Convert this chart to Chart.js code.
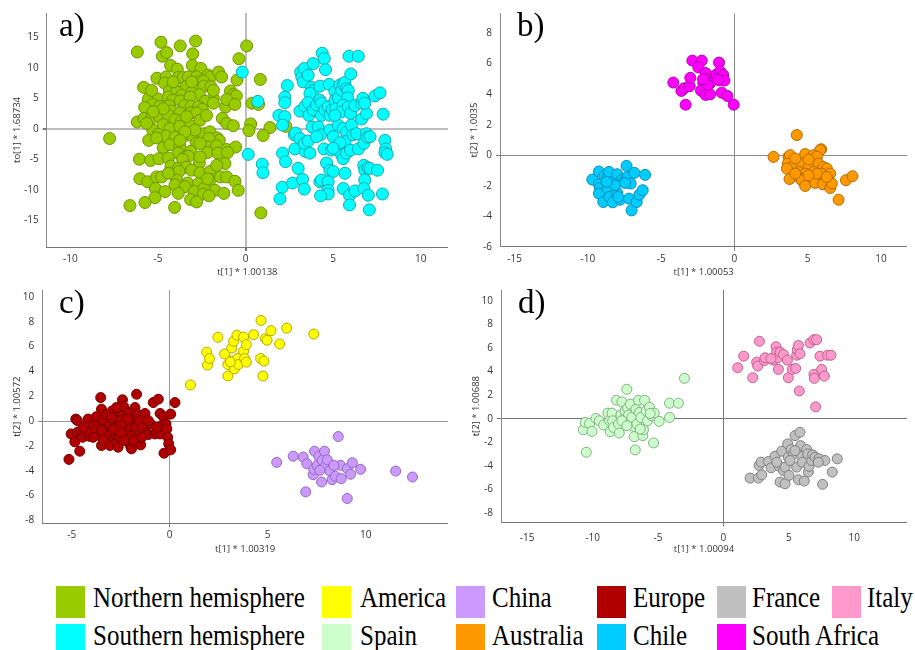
<!DOCTYPE html>
<html>
<head>
<meta charset="utf-8">
<script src="https://cdn.jsdelivr.net/npm/chart.js@4.4.1/dist/chart.umd.min.js"></script>
<style>
  html, body { margin: 0; padding: 0; background: #fff; }
  #page { position: relative; width: 915px; height: 650px; overflow: hidden; }
  canvas { position: absolute; }
  .tag { position: absolute; font-family: 'Liberation Serif', 'Times New Roman', serif; font-size: 33px; line-height: 33px; color: #000; }
  .sq { position: absolute; width: 29px; height: 32px; }
  .lab { position: absolute; font-family: 'Liberation Serif', 'Times New Roman', serif; font-size: 25px; line-height: 25px; color: #000; white-space: nowrap; transform: scaleY(1.15); transform-origin: 0 21px; }
</style>
</head>
<body>
<div id="page">
  <canvas id="pa" width="455" height="280" style="left:0;top:0"></canvas>
  <canvas id="pb" width="460" height="280" style="left:455px;top:0"></canvas>
  <canvas id="pc" width="455" height="280" style="left:0;top:280px"></canvas>
  <canvas id="pd" width="460" height="280" style="left:455px;top:280px"></canvas>
  <div class="tag" style="left:59px;top:9px">a)</div>
  <div class="tag" style="left:517px;top:9px">b)</div>
  <div class="tag" style="left:59px;top:286px">c)</div>
  <div class="tag" style="left:518px;top:286px">d)</div>
  <div id="legend"></div>
</div>
<script>
// panel a) - hemispheres
const northern = [
  [-6.18,12.6],[-4.75,11.9],[-4.5,12.5],[-4.83,14.2],[-3.73,13.6],[-2.85,14.4],[-3.02,12.3],[0.06,13.6],[-0.38,11.5],
  [-4.28,10.4],[-3.9,9.8],[-3.04,10.4],[-2.55,9.9],[-5.06,8.3],[-4.54,8.5],[-3.84,8.4],[-3.56,8.4],[-3.27,8.5],[-2.8,8.5],
  [-2.13,8.8],[-2.0,8.5],[-1.54,9.3],[-1.37,8.5],[-2.74,7.7],[-2.41,7.8],[-4.62,7.5],[-4.13,6.9],[-3.37,7.0],[-2.89,6.9],
  [-2.38,7.0],[-1.98,6.9],[-5.82,6.8],[-0.49,8.0],[0.84,8.1],[-4.35,6.2],[-3.94,6.1],[-3.65,5.5],[-3.1,5.9],[-2.64,5.6],
  [-0.86,6.2],[-0.7,5.6],[-0.53,5.4],[-1.84,5.0],[-2.3,4.5],[-1.84,4.2],[-5.42,5.2],[-5.55,4.9],[-4.98,4.9],[-4.41,5.2],
  [-4.16,4.7],[-3.73,4.6],[-3.17,5.2],[-5.3,4.0],[-4.89,3.7],[-4.37,3.8],[-5.76,3.5],[-3.48,3.8],[-3.1,3.7],[-2.68,3.6],
  [-2.47,3.2],[-1.14,3.6],[-1.08,4.8],[-0.61,4.0],[0.36,4.2],[0.74,4.0],[-4.22,2.9],[-3.75,2.6],[-3.14,2.6],[-2.8,2.6],
  [-6.18,1.1],[-5.8,1.7],[-5.36,1.7],[-4.92,2.0],[-4.41,2.2],[-4.03,1.5],[-3.65,1.3],[-4.7,0.7],[-4.32,0.05],[-3.75,0.4],
  [-3.14,0.5],[-1.33,1.7],[-1.08,0.9],[-0.7,0.5],[0.29,0.8],[1.39,0.2],[2.3,0.4],[-5.3,-0.2],[-4.98,-0.9],[-4.54,-1.2],
  [-4.03,-1.4],[-3.5,-1.2],[-3.02,-1.2],[-2.38,-0.8],[-2.03,-0.5],[-1.62,-1.5],[-1.5,-1.9],[0.19,-0.3],[1.0,-1.1],[-7.76,-1.6],
  [-5.53,-1.9],[-5.08,-1.5],[-3.8,-2.4],[-2.8,-2.3],[-2.09,-1.6],[-4.7,-3.1],[-4.32,-2.6],[-3.75,-3.0],[-3.14,-3.7],[-2.13,-3.0],
  [-1.65,-2.8],[-1.08,-3.4],[-0.57,-3.0],[-2.17,-3.9],[-3.84,-4.0],[-3.46,-4.6],[-3.27,-4.5],[-1.58,-4.0],[-1.03,-3.9],[-6.06,-5.0],
  [-5.42,-5.2],[-4.94,-4.9],[-4.41,-4.8],[-3.59,-5.0],[-2.64,-5.6],[-4.26,-6.1],[-3.84,-6.5],[-3.37,-6.3],[-1.18,-5.7],[-3.8,-7.0],
  [-3.08,-6.8],[-2.6,-7.2],[-2.03,-7.0],[-6.03,-8.2],[-5.59,-8.7],[-5.08,-7.9],[-4.79,-7.9],[-3.94,-8.4],[-3.31,-8.9],[-2.7,-9.0],
  [-1.99,-8.3],[-1.43,-7.9],[-1.08,-7.9],[-0.61,-8.6],[-5.15,-9.8],[-4.6,-10.3],[-4.03,-9.2],[-3.46,-9.5],[-2.93,-10.3],[-2.38,-9.8],
  [-1.75,-10.1],[-0.42,-10.1],[-1.24,-10.6],[-3.84,-10.6],[-2.41,-10.7],[-2.09,-11.0],[-5.17,-11.3],[-3.14,-11.6],[-2.8,-12.0],[-5.74,-12.1],
  [-6.6,-12.6],[-4.05,-12.9],[0.87,-13.8],[-3.37,2.0],[-2.6,1.4],[-2.23,2.2],[-2.89,-0.2],[-3.46,-0.5],[-4.7,3.3],[-3.75,-1.9],
  [-2.6,-2.4],[-4.13,7.7],[-3.08,7.7],[-1.84,6.3],[-5.36,6.3],[-5.27,2.8],[-5.65,0.9],[-2.6,-4.6],[-4.41,-7.3],[-1.65,-6.0],[-2.17,-8.2]
];
const southern = [
  [-0.19,9.3],[0.7,4.5],[0.15,-4.2],[0.95,-5.8],[0.99,-7.2],[1.9,2.2],[2.24,2.0],[2.11,0.6],[2.24,5.2],[2.24,4.3],
  [2.38,7.1],[2.11,-4.0],[2.28,-5.4],[2.09,-9.6],[1.96,-11.5],[2.68,-8.9],[2.78,-1.0],[2.85,-0.7],[2.81,-3.3],[3.0,-6.5],
  [3.1,-1.6],[3.25,-8.3],[3.35,-9.9],[3.4,-3.7],[3.35,-2.4],[3.57,-2.0],[3.1,2.9],[3.14,9.3],[3.21,8.5],[3.35,9.9],
  [3.29,7.7],[3.57,8.8],[3.86,10.7],[3.76,6.8],[3.86,6.3],[3.67,5.8],[3.38,3.7],[3.57,4.3],[3.61,2.2],[3.86,3.1],
  [4.05,3.9],[3.8,0.3],[4.14,0.3],[4.28,-1.0],[4.24,4.7],[4.33,4.2],[4.33,2.2],[4.52,3.1],[4.24,7.0],[4.37,12.4],
  [4.49,11.5],[4.56,9.7],[4.77,7.3],[4.71,3.6],[4.81,2.2],[4.94,3.1],[4.81,-0.2],[5.0,-1.3],[4.47,-3.3],[4.9,-3.5],
  [4.62,-5.6],[4.81,-6.8],[5.0,-7.0],[4.24,-8.7],[4.33,-8.4],[4.71,-8.7],[4.71,-10.1],[4.71,-10.7],[4.28,-11.0],[5.1,6.1],
  [5.1,4.7],[5.15,3.3],[5.29,5.1],[5.38,7.2],[5.48,6.3],[5.57,7.4],[5.67,7.6],[5.76,6.6],[5.86,6.3],[5.82,5.1],
  [5.57,3.9],[5.48,2.8],[5.86,3.6],[5.99,2.5],[5.29,0.6],[5.57,0.05],[5.76,-0.6],[5.48,-3.0],[5.67,-2.1],[5.23,-2.8],
  [5.48,-4.3],[5.57,-4.9],[5.76,-4.0],[5.99,-3.5],[5.67,-7.3],[5.57,-9.8],[5.93,-10.9],[5.93,-12.5],[5.9,11.9],[6.43,11.9],
  [6.0,9.0],[6.04,0.6],[6.13,-1.0],[6.33,-0.8],[6.24,3.8],[6.44,-3.3],[6.24,-10.2],[6.62,4.2],[6.75,4.7],[6.69,5.0],
  [6.62,1.6],[6.9,2.5],[6.8,4.2],[6.75,-2.4],[6.9,-0.8],[6.96,-1.4],[7.1,-1.3],[6.74,-6.0],[6.8,-6.8],[6.8,-8.4],
  [6.75,-9.8],[6.98,-6.4],[7.1,-6.5],[7.0,-10.9],[7.06,-13.3],[7.53,-6.8],[7.38,5.4],[7.67,5.9],[7.85,2.4],[7.81,-10.7],
  [7.95,-1.9],[7.99,-3.3],[7.95,-3.9],[8.08,-4.2],[5.38,-2.3],[5.1,2.2],[4.05,-1.3],[3.67,-4.0],[5.0,-3.2]
];

// panel b) - countries of the southern hemisphere
const southAfrica = [
  [-4.17,4.76],[-3.62,4.21],[-3.42,4.39],[-3.05,4.52],[-3.01,5.07],[-3.33,3.31],[-2.87,6.2],[-2.23,6.2],[-2.46,5.75],[-1.96,5.39],
  [-1.94,5.0],[-2.12,4.71],[-2.28,4.23],[-1.96,3.95],[-1.66,3.99],[-1.66,4.71],[-1.82,4.6],[-1.23,5.29],[-1.05,6.07],[-0.98,5.5],
  [-0.98,4.93],[-0.82,5.2],[-0.77,5.26],[-0.68,4.89],[-0.87,4.1],[-0.48,3.88],[-0.05,3.31],[-2.14,4.98],[-1.09,4.93]
];
const chile = [
  [-9.7,-1.6],[-9.25,-1.07],[-9.25,-1.91],[-9.18,-2.15],[-9.25,-2.52],[-8.95,-3.07],[-8.88,-1.36],[-8.66,-1.43],[-8.66,-2.19],[-8.54,-2.74],
  [-8.43,-1.58],[-8.31,-3.09],[-8.56,-1.1],[-8.0,-1.25],[-8.0,-2.48],[-7.81,-2.92],[-7.93,-2.74],[-7.7,-1.64],[-7.52,-1.75],[-7.36,-0.7],
  [-7.29,-1.43],[-7.08,-1.86],[-7.2,-2.85],[-7.02,-3.62],[-6.83,-1.16],[-6.67,-3.07],[-6.49,-2.59],[-6.26,-2.3],[-6.1,-1.29],[-8.15,-1.97],
  [-8.72,-1.75],[-7.47,-1.82]
];
const australia = [
  [2.67,-0.11],[4.26,1.32],[5.92,0.39],[5.85,0.33],[3.69,-0.11],[3.8,0],[4.83,0.07],[5.4,0],[5.63,-0.11],[3.64,-0.55],
  [3.96,-0.77],[4.6,-0.55],[5.06,-0.77],[5.74,-0.55],[6.08,-0.77],[6.31,-0.88],[3.58,-0.88],[4.37,-1.1],[4.83,-1.21],[5.4,-1.1],
  [5.97,-1.21],[6.54,-1.21],[3.76,-1.56],[4.37,-1.43],[4.6,-1.64],[5.24,-1.6],[5.51,-1.82],[6.04,-1.91],[6.54,-2.15],[6.65,-1.86],
  [4.83,-2.02],[7.11,-2.92],[7.61,-1.64],[8.06,-1.38],[4.15,-0.22],[5.06,-0.29],[5.63,-1.21],[6.31,-1.43],[4.15,-1.21],[5.06,-1.32]
];

// panel c) - continents
const europe = [
  [-5.14,-3.09],[-5.03,-1.04],[-4.84,-1.68],[-4.79,0.16],[-4.71,0.03],[-4.71,-0.91],[-4.59,-2.43],[-4.5,-0.99],[-4.45,-1.31],[-4.16,0.16],
  [-4.11,-1.23],[-4.03,-0.85],[-3.91,-0.43],[-3.82,-1.17],[-3.74,0.35],[-3.65,-0.29],[-3.6,-1.09],[-3.52,1.89],[-3.48,0.96],[-3.48,-1.97],
  [-3.4,0.03],[-3.36,-0.64],[-3.26,-1.31],[-3.23,0.51],[-3.19,-1.57],[-3.09,-0.51],[-3.05,-1.97],[-2.97,-1.17],[-2.92,0.83],[-2.88,-0.24],
  [-2.83,0.24],[-2.8,-1.04],[-2.71,-1.71],[-2.68,0.35],[-2.63,-0.51],[-2.58,-1.31],[-2.46,0.61],[-2.41,1.71],[-2.37,-0.77],[-2.34,1.15],
  [-2.29,-0.24],[-2.24,-1.17],[-2.2,0.29],[-2.12,-1.71],[-2.06,0.69],[-2.03,-0.51],[-1.98,-2.11],[-1.95,-2.24],[-1.89,0.03],[-1.86,-1.04],
  [-1.77,1.09],[-1.72,-0.51],[-1.69,2.16],[-1.66,0.56],[-1.6,-1.17],[-1.55,0.03],[-1.48,-1.92],[-1.38,-0.51],[-1.26,0.61],[-1.18,-0.99],
  [-1.09,-1.09],[-0.97,-0.24],[-0.84,1.49],[-0.75,-1.04],[-0.67,-0.91],[-0.58,1.76],[-0.49,0.61],[-0.49,-1.04],[-0.41,-0.37],[-0.32,0.35],
  [-0.29,-2.59],[-0.19,-0.24],[-0.15,-0.64],[-0.1,-1.31],[-0.05,-1.84],[0.05,0.56],[0.05,-2.32],[0.27,1.49],[-3.05,-0.37],[-2.54,0.03],
  [-3.23,-1.04],[-2.71,1.09],[-3.74,-0.77],[-1.95,-1.17],[-1.43,-1.31],[-2.29,-1.57],[-2.63,-2.11],[-3.91,-1.31],[-3.48,-0.77],[-4.25,-0.77],
  [-1.09,0.03],[-0.67,-0.51],[-4.42,-0.51],[-2.46,-0.37],[-2.88,-0.64],[-2.12,0.16],[-3.4,-1.52],[-1.86,-1.57],[-2.5,-0.91],[-2.97,0.29]
];
const america = [
  [1.06,2.91],[1.89,5.55],[1.93,4.51],[2.03,5.04],[2.46,6.75],[2.8,5.41],[2.97,4.56],[2.97,3.63],[3.14,4.83],[3.17,5.89],
  [3.26,6.43],[3.31,4.21],[3.43,6.91],[3.46,5.04],[3.51,4.56],[3.77,6.77],[3.77,5.63],[3.82,5.04],[3.91,4.75],[3.91,6.16],
  [4.28,6.96],[4.66,8.11],[4.64,5.04],[4.81,4.83],[4.76,3.63],[4.88,6.64],[4.97,6.51],[5.17,7.28],[5.61,6.21],[5.97,7.49],
  [7.35,7.01],[3.09,4.77]
];
const china = [
  [5.46,-3.33],[6.3,-2.83],[6.81,-2.91],[7.0,-3.44],[6.94,-5.71],[7.32,-4.32],[7.35,-3.89],[7.39,-2.43],[7.52,-3.57],[7.61,-2.85],
  [7.75,-4.91],[7.78,-3.17],[7.9,-2.43],[7.95,-3.65],[8.04,-3.12],[8.16,-4.03],[8.29,-4.72],[8.46,-4.45],[8.6,-1.25],[8.72,-3.57],
  [8.75,-4.64],[9.06,-6.24],[9.06,-3.84],[9.23,-4.29],[9.32,-3.36],[9.74,-3.89],[11.53,-4.03],[12.39,-4.51],[8.38,-3.57],[7.66,-3.97]
];

// panel d) - european countries
const spain = [
  [-10.71,-0.93],[-10.48,-2.84],[-10.56,-0.31],[-10.23,-0.39],[-10.05,-1.07],[-9.75,0.03],[-9.49,-0.17],[-9.16,-0.53],[-8.83,0.48],[-8.7,-0.17],
  [-8.65,-1.1],[-8.52,0.48],[-8.47,-0.17],[-8.4,-0.73],[-8.17,1.57],[-8.02,-0.45],[-7.96,-1.21],[-7.84,0.31],[-7.76,1.43],[-7.63,-0.03],
  [-7.51,0.67],[-7.38,2.5],[-7.33,0.9],[-7.25,0.31],[-7.12,1.24],[-7.0,0.11],[-6.87,-0.65],[-6.82,-1.52],[-6.74,-2.64],[-6.69,0.81],
  [-6.62,-0.45],[-6.49,1.57],[-6.44,0.53],[-6.31,0.11],[-6.16,-1.43],[-6.11,-0.93],[-6.03,1.57],[-5.9,0.67],[-5.8,-0.17],[-5.65,0.96],
  [-5.47,0.25],[-5.34,-2.05],[-5.29,0.48],[-4.91,-0.22],[-4.12,1.32],[-4.12,0.11],[-3.44,1.32],[-2.98,3.43],[-7.76,-0.17],[-7.38,-0.59],
  [-6.36,-0.87],[-5.6,0.45]
];
const italy = [
  [1.09,4.33],[1.55,5.31],[2.24,3.48],[2.54,4.8],[2.62,4.47],[2.75,6.57],[3.13,4.94],[3.18,5.17],[3.82,4.97],[4.02,6.1],
  [4.07,5.65],[4.15,5.17],[4.2,4.19],[4.33,5.65],[4.58,5.45],[4.89,4.97],[4.96,3.48],[5.27,4.19],[5.52,4.27],[5.6,5.39],
  [5.65,5.87],[5.73,6.21],[5.85,5.51],[5.8,2.36],[6.62,6.43],[6.92,6.71],[7.12,6.71],[6.92,3.76],[6.95,3.43],[7.05,1.01],
  [7.38,5.31],[7.51,4.19],[7.71,3.62],[7.96,5.39],[8.22,5.39],[3.64,5.11]
];
const france = [
  [2.04,-5.03],[2.67,-5.03],[2.72,-3.96],[2.88,-3.68],[2.93,-4.75],[3.44,-3.62],[3.64,-4.16],[3.94,-3.17],[4.25,-4.02],[4.33,-5.37],
  [4.45,-2.75],[4.58,-4.38],[4.71,-4.1],[4.71,-5.51],[4.91,-2.13],[4.96,-3.26],[5.01,-4.8],[5.17,-2.61],[5.34,-2.98],[5.47,-1.43],
  [5.6,-4.1],[5.73,-5.17],[5.85,-1.15],[5.9,-2.28],[5.98,-3.2],[6.03,-3.68],[6.18,-5.28],[6.36,-2.61],[6.44,-2.98],[6.49,-4.52],
  [6.54,-4.04],[6.74,-3.54],[6.82,-3.06],[7.0,-3.26],[7.3,-3.4],[7.58,-5.56],[7.76,-3.54],[8.32,-4.52],[8.7,-3.4],[5.47,-2.7],
  [5.09,-3.54],[4.07,-3.68],[7.25,-3.68]
];

// legend rows
const legendRow1 = ['Northern hemisphere', 'America', 'China', 'Europe', 'France', 'Italy'];
const legendRow2 = ['Southern hemisphere', 'Spain', 'Australia', 'Chile', 'South Africa'];

const colores = {
  'Northern hemisphere': ['#99cc00', '#6f9300'],
  'Southern hemisphere': ['#00ffff', '#16a9b0'],
  'America': ['#ffff00', '#b3a800'],
  'China': ['#cc99ff', '#8f6cb8'],
  'Europe': ['#b00000', '#6e0000'],
  'France': ['#c0c0c0', '#7f7f7f'],
  'Italy': ['#ff99cc', '#b8648e'],
  'Spain': ['#ccffcc', '#86ad86'],
  'Australia': ['#ff9900', '#b36b00'],
  'Chile': ['#00ccff', '#0a8db3'],
  'South Africa': ['#ff00ff', '#b000b0']
};

const fuente = "'Open Sans', 'Noto Sans', sans-serif";

function serie(nombre, pts, r) {
  return {
    label: nombre,
    data: pts.map(p => ({ x: p[0], y: p[1] })),
    backgroundColor: colores[nombre][0],
    borderColor: colores[nombre][1],
    borderWidth: 1,
    pointRadius: r,
    pointHoverRadius: r
  };
}

function crearPanel(id, p) {
  const ctx = document.getElementById(id).getContext('2d');
  const gridCfg = (col, w) => ({
    color: c => (c.tick && c.tick.value === 0) ? col : 'rgba(0,0,0,0)',
    lineWidth: c => (c.tick && c.tick.value === 0) ? w : 0,
    tickColor: '#777',
    tickLength: 4
  });
  return new Chart(ctx, {
    type: 'scatter',
    data: { datasets: p.series },
    options: {
      responsive: false,
      animation: false,
      events: [],
      layout: { padding: { top: p.top, right: p.right, left: 0, bottom: 0 } },
      plugins: { legend: { display: false }, tooltip: { enabled: false } },
      scales: {
        x: {
          type: 'linear',
          min: p.xMin, max: p.xMax,
          afterFit: s => { s.height = p.xh; },
          grid: gridCfg(p.zero, p.zw),
          border: { display: true, color: '#777', width: 1 },
          ticks: {
            stepSize: 2.5, includeBounds: false, autoSkip: false, maxRotation: 0,
            padding: p.xPad, color: '#333', font: { family: fuente, size: 10 },
            callback: v => (v % 5 === 0 ? v : '')
          },
          title: { display: true, text: p.xTitle, color: '#333', font: { family: fuente, size: 9.5 }, padding: { top: 0, bottom: p.xtPad } }
        },
        y: {
          type: 'linear',
          min: p.yMin, max: p.yMax,
          afterFit: s => { s.width = p.yw; },
          grid: gridCfg(p.zero, p.zw),
          border: { display: true, color: '#888', width: 1 },
          ticks: {
            stepSize: p.yStep, includeBounds: false, autoSkip: false,
            padding: 4, color: '#333', font: { family: fuente, size: 10 },
            callback: v => (v % p.yLab === 0 ? v : '')
          },
          title: { display: true, text: p.yTitle, color: '#333', font: { family: fuente, size: 9.5 }, padding: { top: p.ytPad, bottom: 0 } }
        }
      }
    }
  });
}

window.addEventListener('DOMContentLoaded', () => {
  crearPanel('pa', {
    series: [serie('Southern hemisphere', southern, 6), serie('Northern hemisphere', northern, 6)],
    top: 13, right: 7, yw: 46.7, xh: 33,
    xMin: -11.35, xMax: 11.55, yMin: -19.4, yMax: 19, yStep: 2.5, yLab: 5,
    xTitle: 't[1] * 1.00138', yTitle: 'to[1] * 1.68734',
    zero: '#bdbdbd', zw: 2, xPad: 2, xtPad: 2.5, ytPad: 12
  });
  crearPanel('pb', {
    series: [serie('South Africa', southAfrica, 5.5), serie('Chile', chile, 5.5), serie('Australia', australia, 5.5)],
    top: 13.3, right: 7.7, yw: 45, xh: 33.3,
    xMin: -16, xMax: 11.8, yMin: -6, yMax: 9.3, yStep: 1, yLab: 2,
    xTitle: 't[1] * 1.00053', yTitle: 't[2] * 1.0035',
    zero: '#8a8a8a', zw: 1, xPad: 2, xtPad: 2.5, ytPad: 14
  });
  crearPanel('pc', {
    series: [serie('America', america, 5), serie('China', china, 5), serie('Europe', europe, 5)],
    top: 8.3, right: 7, yw: 42.3, xh: 36.7,
    xMin: -6.5, xMax: 14.2, yMin: -8.24, yMax: 10.56, yStep: 1, yLab: 2,
    xTitle: 't[1] * 1.00319', yTitle: 't[2] * 1.00572',
    zero: '#9a9a9a', zw: 1, xPad: 2, xtPad: 5.3, ytPad: 12
  });
  crearPanel('pd', {
    series: [serie('Italy', italy, 5), serie('France', france, 5), serie('Spain', spain, 5)],
    top: 8.3, right: 8, yw: 46, xh: 37.7,
    xMin: -17, xMax: 14.03, yMin: -8.78, yMax: 10.92, yStep: 1, yLab: 2,
    xTitle: 't[1] * 1.00094', yTitle: 't[2] * 1.00688',
    zero: '#777777', zw: 1, xPad: 6, xtPad: 5, ytPad: 16
  });

  // leyenda en HTML, dos filas
  const cont = document.getElementById('legend');
  const sqX = [56, 322, 456, 597, 717, 832];
  const txX = [93, 360, 492, 633, 752, 867];
  const filas = [[legendRow1, 586, 586], [legendRow2, 624, 624]];
  filas.forEach(([nombres, sqTop, txTop]) => {
    nombres.forEach((n, i) => {
      const sq = document.createElement('div');
      sq.className = 'sq';
      sq.style.left = sqX[i] + 'px';
      sq.style.top = sqTop + 'px';
      sq.style.background = colores[n][0];
      cont.appendChild(sq);
      const t = document.createElement('div');
      t.className = 'lab';
      t.style.left = txX[i] + 'px';
      t.style.top = txTop + 'px';
      t.textContent = n;
      cont.appendChild(t);
    });
  });
});
</script>
</body>
</html>
